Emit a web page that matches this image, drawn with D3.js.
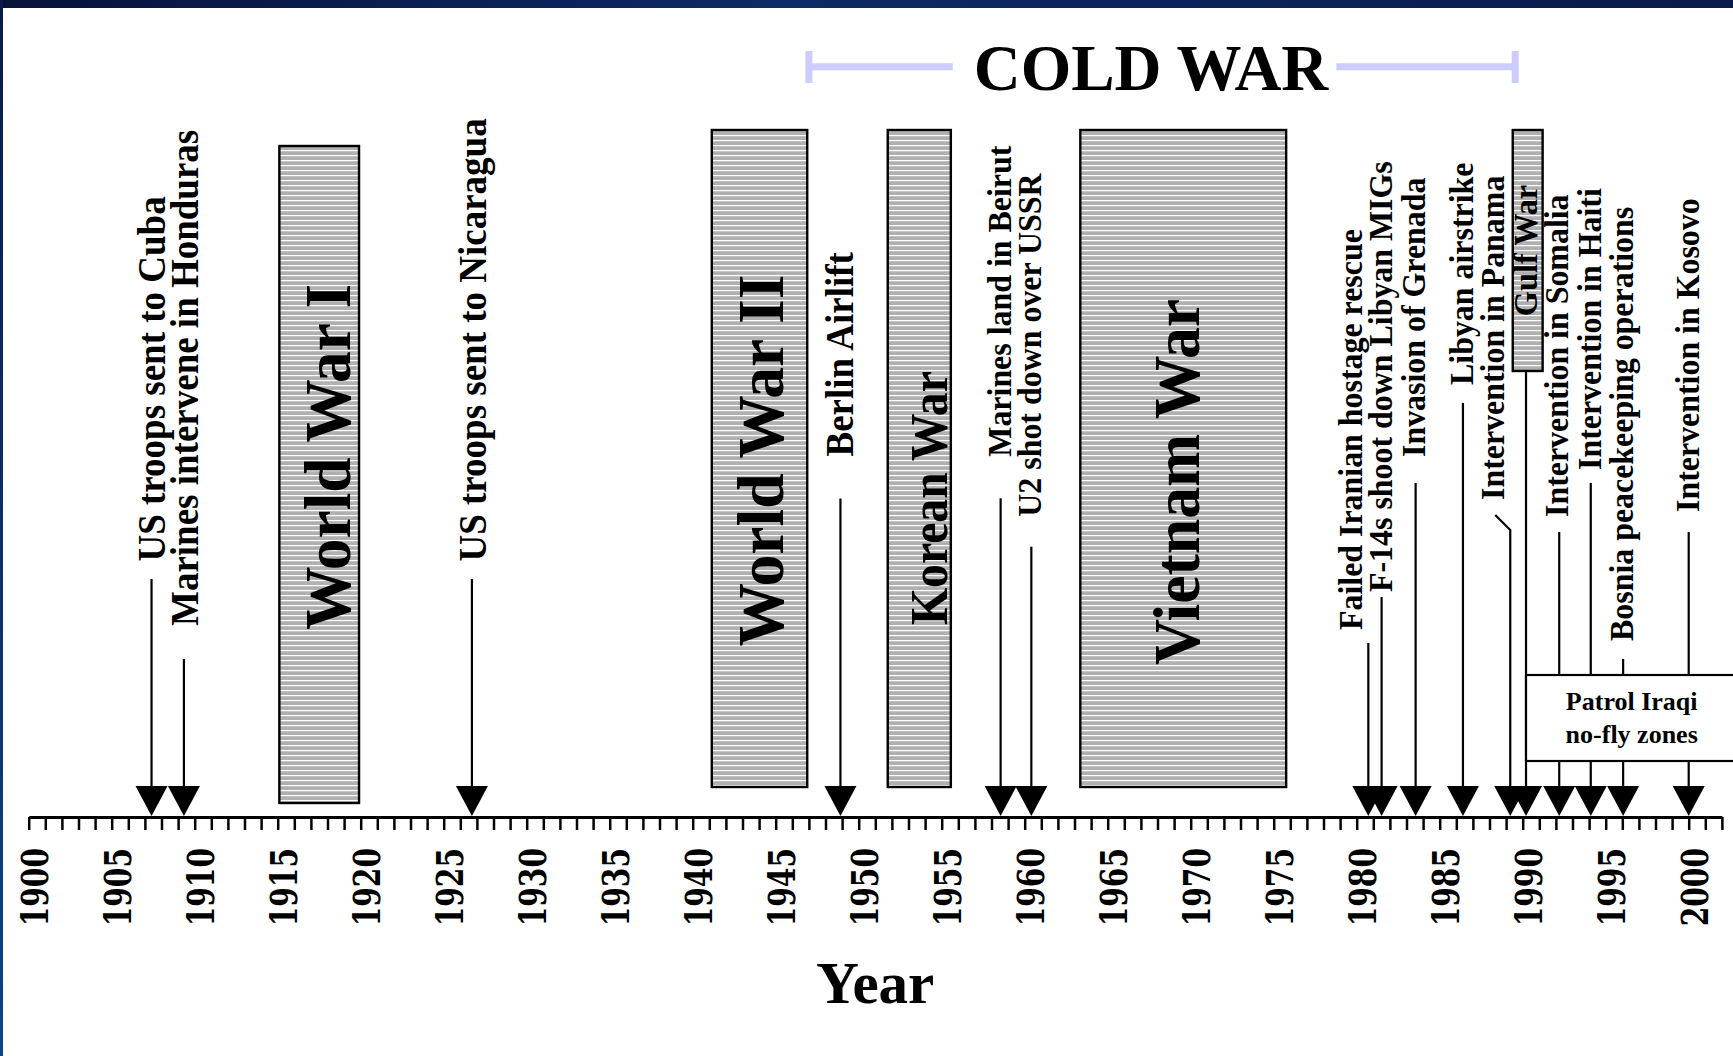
<!DOCTYPE html>
<html>
<head>
    <meta charset="utf-8">
    <title>US military actions 1900-2000</title>
    <script src="https://d3js.org/d3.v7.min.js"></script>
    <style>
        body {
            margin: 0;
            background: #fff;
        }

        svg {
            display: block;
            font-family: "Liberation Serif", "Times New Roman", serif;
            font-weight: bold;
        }

        .tick text {
            font-family: "DejaVu Serif", serif;
        }
    </style>
</head>
<body>
<svg width="1733" height="1056"></svg>

<script>
    // wars, shown as shaded boxes
    var warNames = ["World War I", "World War II", "Korean War", "Vietnam War", "Gulf War"];
    var warStart = [1915.1, 1941.15, 1951.75, 1963.35, 1989.4];
    var warEnd = [1919.9, 1946.9, 1955.55, 1975.75, 1991.2];

    // single events, shown as arrows
    var eventNames = ["US troops sent to Cuba", "Marines intervene in Honduras", "US troops sent to Nicaragua",
        "Berlin Airlift", "Marines land in Beirut", "U2 shot down over USSR",
        "Failed Iranian hostage rescue", "F-14s shoot down Libyan MIGs", "Invasion of Grenada",
        "Libyan airstrike", "Intervention in Panama", "", "Intervention in Somalia",
        "Intervention in Haiti", "Bosnia peacekeeping operations", "Intervention in Kosovo"];
    var eventYears = [1907.4, 1909.35, 1926.7, 1948.9, 1958.55, 1960.4, 1980.7, 1981.5, 1983.55,
        1986.4, 1989.25, 1990.2, 1992.2, 1994.1, 1996.05, 2000.0];

    var coldWar = [1947, 1989.55];
    var patrolStart = 1990.2;
    var patrolLines = ["Patrol Iraqi", "no-fly zones"];

    var axisYears = [1900, 2002];
    var tickYears = d3.range(1900, 2003);
    var labelEvery = 5;

    // layout: [font size, baseline offset from line, text bottom y, line top y]
    var eventLayout = [
        [40, 13.5, 561.5, 579], [40, 14, 626, 659], [40, 14.5, 561.5, 579],
        [40, 13, 456.5, 498.5], [34.5, 10, 456.7, 498.3], [34.5, 10, 516.7, 546.7],
        [34.5, -6, 630, 643], [34.5, 10, 592, 597], [34.5, 9.3, 457, 483],
        [34.5, 10, 385, 403], [34.5, -6.7, 500, 530], [0, 0, 0, 371],
        [34.5, 8.3, 517, 532], [34.5, 10, 470, 483], [34.5, 10, 641, 659],
        [34.5, 10.6, 512, 532]
    ];
    // layout: [top, bottom, font size, stretch, baseline offset from centre, text bottom y (null = centred)]
    var warLayout = [
        [146, 803, 65, 0.975, 31, 630],
        [130, 787, 65, 0.978, 23, 646.5],
        [130, 787, 52, 0.917, 28, 625],
        [130, 787, 66, 0.965, 15.5, 665],
        [130, 371, 34, 0.95, 9, null]
    ];
    var textStretch = 0.925;

    var svg = d3.select("svg"),
        width = +svg.attr("width"),
        height = +svg.attr("height");

    var axisY = 817,
        arrowH = 31,
        arrowW = 32;

    var x = d3.scaleLinear()
        .domain(axisYears)
        .range([28.7, 28.7 + 16.6 * (axisYears[1] - axisYears[0])]);

    // background frame
    var defs = svg.append("defs");
    var grad = defs.append("linearGradient").attr("id", "band");
    grad.append("stop").attr("offset", "0%").attr("stop-color", "#07123a");
    grad.append("stop").attr("offset", "45%").attr("stop-color", "#0d2a66");
    grad.append("stop").attr("offset", "100%").attr("stop-color", "#0a1a4a");
    var side = defs.append("linearGradient").attr("id", "side")
        .attr("x1", 0).attr("y1", 0).attr("x2", 0).attr("y2", 1);
    side.append("stop").attr("offset", "0%").attr("stop-color", "#0a1a4a");
    side.append("stop").attr("offset", "100%").attr("stop-color", "#0a4488");

    var hatch = defs.append("pattern")
        .attr("id", "hatch")
        .attr("patternUnits", "userSpaceOnUse")
        .attr("width", 10)
        .attr("height", 5);
    hatch.append("rect").attr("width", 10).attr("height", 5).attr("fill", "#b0b0b0");
    hatch.append("rect").attr("width", 10).attr("height", 1.2).attr("fill", "#ffffff");

    svg.append("rect").attr("width", width).attr("height", height).attr("fill", "#fff");
    svg.append("rect").attr("width", width).attr("height", 8).attr("fill", "url(#band)");
    svg.append("rect").attr("width", 3).attr("height", height).attr("fill", "url(#side)");

    // cold war bracket
    var cw = svg.append("g");
    var title = cw.append("text")
        .attr("x", 1151)
        .attr("y", 90)
        .attr("text-anchor", "middle")
        .attr("font-size", 65)
        .text("COLD WAR");
    var tb = title.node().getBBox();
    cw.append("line")
        .attr("x1", x(coldWar[0])).attr("x2", tb.x - 21)
        .attr("y1", 66.7).attr("y2", 66.7);
    cw.append("line")
        .attr("x1", tb.x + tb.width + 7).attr("x2", x(coldWar[1]))
        .attr("y1", 66.7).attr("y2", 66.7);
    cw.selectAll("line.bar")
        .data(coldWar)
        .enter().append("line")
        .attr("class", "bar")
        .attr("x1", function (d) { return x(d); })
        .attr("x2", function (d) { return x(d); })
        .attr("y1", 51).attr("y2", 83);
    cw.selectAll("line").attr("stroke", "#ccccff").attr("stroke-width", 7);

    // war boxes
    var wars = warNames.map(function (n, i) {
        return {name: n, start: warStart[i], end: warEnd[i], lay: warLayout[i]};
    });
    var war = svg.append("g").selectAll("g")
        .data(wars)
        .enter().append("g");
    war.append("rect")
        .attr("x", function (d) { return x(d.start); })
        .attr("width", function (d) { return x(d.end) - x(d.start); })
        .attr("y", function (d) { return d.lay[0]; })
        .attr("height", function (d) { return d.lay[1] - d.lay[0]; })
        .attr("fill", "url(#hatch)")
        .attr("stroke", "#000")
        .attr("stroke-width", 2.4);
    war.append("text")
        .attr("font-size", function (d) { return d.lay[2]; })
        .attr("text-anchor", function (d) { return d.lay[5] === null ? "middle" : "start"; })
        .attr("transform", function (d) {
            var cx = (x(d.start) + x(d.end)) / 2 + d.lay[4];
            var ty = d.lay[5] === null ? (d.lay[0] + d.lay[1]) / 2 : d.lay[5];
            return "translate(" + cx + "," + ty + ") rotate(-90) scale(" + d.lay[3] + ",1)";
        })
        .text(function (d) { return d.name; });

    // event arrows
    var events = eventNames.map(function (n, i) {
        return {name: n, year: eventYears[i], lay: eventLayout[i]};
    });
    var ev = svg.append("g").selectAll("g")
        .data(events)
        .enter().append("g");
    ev.append("path")
        .attr("fill", "none")
        .attr("stroke", "#000")
        .attr("stroke-width", 2.2)
        .attr("d", function (d) {
            var px = x(d.year);
            var p = "M" + px + "," + (axisY - arrowH + 2) + "L" + px + "," + d.lay[3];
            if (d.name === "Intervention in Panama") p += "L" + (px - 15) + "," + (d.lay[3] - 15);
            return p;
        });
    ev.filter(function (d) { return d.name !== ""; })
        .append("text")
        .attr("font-size", function (d) { return d.lay[0]; })
        .attr("transform", function (d) {
            return "translate(" + (x(d.year) + d.lay[1]) + "," + d.lay[2] + ") rotate(-90) scale(" + textStretch + ",1)";
        })
        .text(function (d) { return d.name; });

    // patrol iraqi box (over the lines)
    var patrol = svg.append("g");
    patrol.append("rect")
        .attr("x", x(patrolStart))
        .attr("y", 675)
        .attr("width", width + 20 - x(patrolStart))
        .attr("height", 86)
        .attr("fill", "#fff")
        .attr("stroke", "#000")
        .attr("stroke-width", 2.2);
    patrol.selectAll("text")
        .data(patrolLines)
        .enter().append("text")
        .attr("x", 1631.7)
        .attr("y", function (d, i) { return 710 + i * 33; })
        .attr("text-anchor", "middle")
        .attr("font-size", 26)
        .text(function (d) { return d; });

    // arrowheads
    svg.append("g").selectAll("path")
        .data(eventYears)
        .enter().append("path")
        .attr("fill", "#000")
        .attr("d", function (d) {
            var px = x(d);
            return "M" + (px - arrowW / 2) + "," + (axisY - arrowH) + "L" + (px + arrowW / 2) + "," + (axisY - arrowH)
                + "L" + px + "," + (axisY - 1) + "Z";
        });

    // year axis
    var axis = d3.axisBottom(x)
        .tickValues(tickYears)
        .tickSize(13)
        .tickSizeOuter(0)
        .tickFormat(function (d) { return d % labelEvery === 0 && d <= 2000 ? d : ""; });

    var ax = svg.append("g")
        .attr("transform", "translate(0," + axisY + ")")
        .call(axis);
    ax.attr("font-family", null).attr("font-size", null);
    ax.select(".domain").attr("stroke-width", 3).attr("stroke", "#000");
    ax.selectAll(".tick line").attr("stroke-width", 2.5).attr("stroke", "#000");
    ax.selectAll(".tick text")
        .attr("fill", "#000")
        .attr("font-size", 36.8)
        .attr("transform", "rotate(-90) scale(0.765,1)")
        .attr("x", -31 / 0.765)
        .attr("y", 19)
        .attr("dy", 0)
        .attr("text-anchor", "end");

    svg.append("text")
        .attr("x", (x.range()[0] + x.range()[1]) / 2)
        .attr("y", 1003)
        .attr("text-anchor", "middle")
        .attr("font-size", 59)
        .text("Year");
</script>
</body>
</html>
